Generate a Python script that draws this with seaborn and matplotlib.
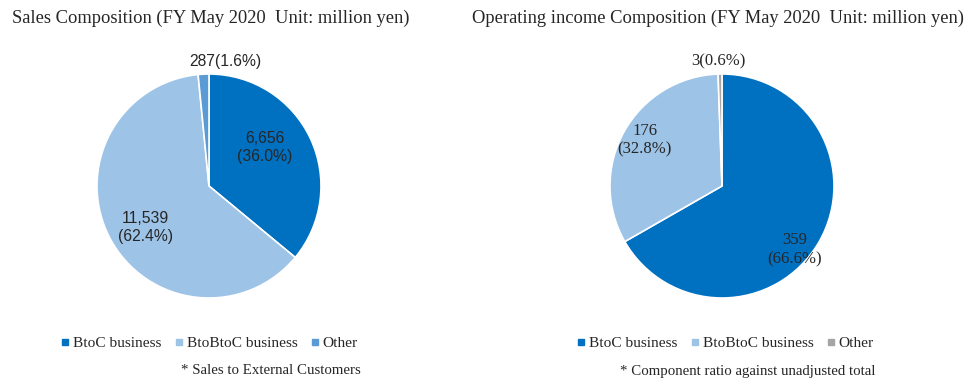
import matplotlib
matplotlib.use("Agg")
import matplotlib.pyplot as plt
import seaborn as sns
from matplotlib.lines import Line2D

sns.set_theme(style="white")
plt.rcParams['font.family'] = ['Liberation Serif', 'DejaVu Serif']

categories = ["BtoC business", "BtoBtoC business", "Other"]
sales_values = [6656, 11539, 287]
sales_pct = [36.0, 62.4, 1.6]
income_values = [359, 176, 3]
income_pct = [66.6, 32.8, 0.6]

sales_colors = ["#0070C0", "#9DC3E6", "#5B9BD5"]
income_colors = ["#0070C0", "#9DC3E6", "#A5A5A5"]

fig = plt.figure(figsize=(9.74, 3.84), dpi=100)
fig.patch.set_facecolor("white")

axL = fig.add_axes([97/974, (384-298)/384, 224/974, 224/384])
axR = fig.add_axes([610/974, (384-298)/384, 224/974, 224/384])

for ax, vals, cols in [(axL, sales_values, sales_colors), (axR, income_values, income_colors)]:
    ax.pie(vals, colors=cols, startangle=90, counterclock=False,
           wedgeprops=dict(edgecolor="white", linewidth=1.2))
    ax.set_xlim(-1, 1)
    ax.set_ylim(-1, 1)
    ax.set_aspect("equal")
    ax.axis("off")

# labels
left_pos = [(0.50, 0.34), (-0.57, -0.37), (0.15, 1.11)]
for i, (x, y) in enumerate(left_pos):
    if i < 2:
        txt = f"{sales_values[i]:,}\n({sales_pct[i]:.1f}%)"
    else:
        txt = f"{sales_values[i]:,}({sales_pct[i]:.1f}%)"
    axL.text(x, y, txt, ha="center", va="center", fontsize=11.3,
             family=["Liberation Sans", "DejaVu Sans"], linespacing=1.25, clip_on=False)

right_pos = [(0.65, -0.57), (-0.69, 0.41), (-0.03, 1.11)]
for i, (x, y) in enumerate(right_pos):
    if i < 2:
        txt = f"{income_values[i]:,}\n({income_pct[i]:.1f}%)"
    else:
        txt = f"{income_values[i]:,}({income_pct[i]:.1f}%)"
    axR.text(x, y, txt, ha="center", va="center", fontsize=12, linespacing=1.25, clip_on=False)

# titles
fig.text(12/974, 1 - 18/384, "Sales Composition (FY May 2020  Unit: million yen)",
         ha="left", va="center", fontsize=13.3)
fig.text(472/974, 1 - 18/384, "Operating income Composition (FY May 2020  Unit: million yen)",
         ha="left", va="center", fontsize=13.3)

def make_legend(cols, x):
    handles = [Line2D([0], [0], marker="s", linestyle="", markersize=4.2,
                      markerfacecolor=c, markeredgecolor=c) for c in cols]
    fig.legend(handles, categories, loc="center", bbox_to_anchor=(x, 1 - 343/384),
               ncol=3, frameon=False, fontsize=11.1, handlelength=0.4, handletextpad=0.3,
               columnspacing=0.95, borderaxespad=0, borderpad=0)

make_legend(sales_colors, 210/974)
make_legend(income_colors, 726/974)

fig.text(271/974, 1 - 371/384, "* Sales to External Customers", ha="center", va="center", fontsize=10.7)
fig.text(748/974, 1 - 371/384, "* Component ratio against unadjusted total", ha="center", va="center", fontsize=10.7)

fig.savefig("out.png", dpi=100, facecolor="white")
